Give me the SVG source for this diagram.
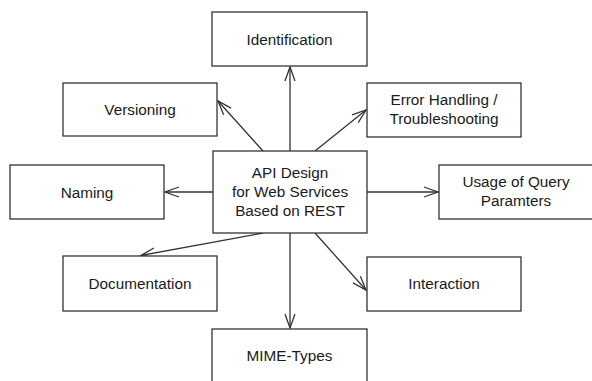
<svg xmlns="http://www.w3.org/2000/svg" width="592" height="381" viewBox="0 0 592 381">
<style>
.box{fill:#fff;stroke:#333;stroke-width:1.3}
.t{font-family:"Liberation Sans",Arial,sans-serif;font-size:15.3px;fill:#1a1a1a;text-anchor:middle}
.c{fill:none;stroke:#333;stroke-width:1.3}
</style>
<defs>
<marker id="a" markerUnits="userSpaceOnUse" markerWidth="18" markerHeight="14" refX="15" refY="6" orient="auto" overflow="visible">
<path d="M1,1 L15,6 L1,11" fill="none" stroke="#333" stroke-width="1.3"/>
</marker>
</defs>
<rect width="592" height="381" fill="#fff"/>
<g id="connectors">
<line class="c" x1="290" y1="151" x2="290" y2="67" marker-end="url(#a)"/>
<line class="c" x1="263" y1="151" x2="218" y2="101" marker-end="url(#a)"/>
<line class="c" x1="315" y1="151" x2="366" y2="110" marker-end="url(#a)"/>
<line class="c" x1="213" y1="192" x2="165" y2="192" marker-end="url(#a)"/>
<line class="c" x1="367" y1="192" x2="438" y2="192" marker-end="url(#a)"/>
<line class="c" x1="263" y1="233" x2="141" y2="255.5" marker-end="url(#a)"/>
<line class="c" x1="315" y1="233" x2="366" y2="290" marker-end="url(#a)"/>
<line class="c" x1="290" y1="233" x2="290" y2="328" marker-end="url(#a)"/>
</g>
<g id="center">
<rect class="box" x="213" y="151" width="154" height="82"/>
<text class="t" x="290" y="178">API Design</text>
<text class="t" x="290" y="197">for Web Services</text>
<text class="t" x="290" y="215.5">Based on REST</text>
</g>
<g id="identification">
<rect class="box" x="212" y="12" width="155" height="54"/>
<text class="t" x="289.5" y="44.5">Identification</text>
</g>
<g id="versioning">
<rect class="box" x="63" y="83" width="154" height="53"/>
<text class="t" x="140" y="115">Versioning</text>
</g>
<g id="error-handling">
<rect class="box" x="367" y="83" width="154" height="54"/>
<text class="t" x="444" y="104.5">Error Handling /</text>
<text class="t" x="444" y="123.5">Troubleshooting</text>
</g>
<g id="naming">
<rect class="box" x="10" y="165" width="154" height="54"/>
<text class="t" x="87" y="197.5">Naming</text>
</g>
<g id="usage">
<rect class="box" x="439" y="165" width="154" height="54"/>
<text class="t" x="516" y="187">Usage of Query</text>
<text class="t" x="516" y="206">Paramters</text>
</g>
<g id="documentation">
<rect class="box" x="63" y="256" width="154" height="55"/>
<text class="t" x="140" y="288.5">Documentation</text>
</g>
<g id="interaction">
<rect class="box" x="367" y="257" width="154" height="54"/>
<text class="t" x="444" y="289">Interaction</text>
</g>
<g id="mime-types">
<rect class="box" x="212" y="329" width="155" height="54"/>
<text class="t" x="289.5" y="361">MIME-Types</text>
</g>
</svg>
